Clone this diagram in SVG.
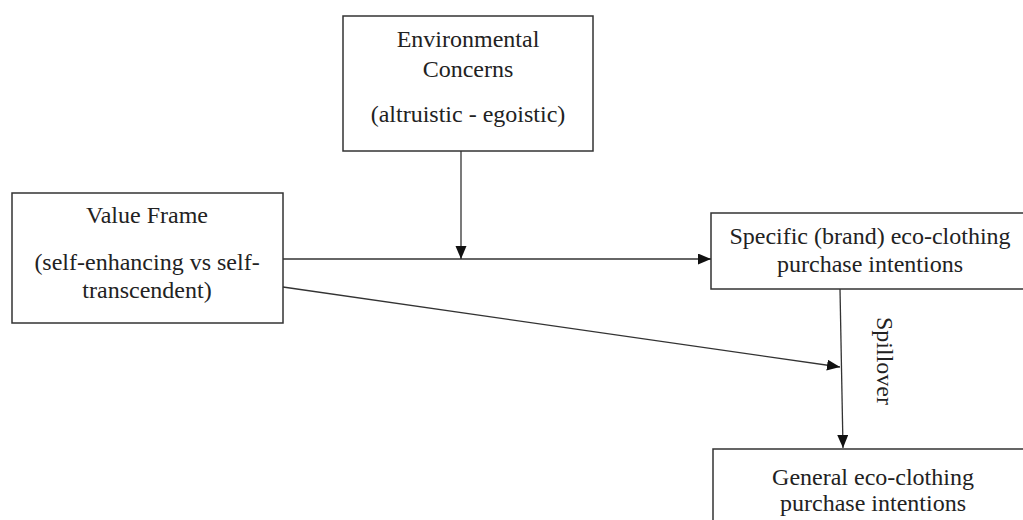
<svg xmlns="http://www.w3.org/2000/svg" width="1023" height="520" viewBox="0 0 1023 520">
<style>
.box{fill:#fff;stroke:#333;stroke-width:1.5}
.t{font-family:"Liberation Serif","Times New Roman",serif;font-size:24px;fill:#222;text-anchor:middle}
.c{fill:none;stroke:#333;stroke-width:1.3}
</style>
<defs>
<marker id="ah" markerUnits="userSpaceOnUse" markerWidth="14" markerHeight="12" refX="13" refY="5.5" orient="auto">
<path d="M0,0 L13,5.5 L0,11 z" fill="#111"/>
</marker>
</defs>
<rect width="1023" height="520" fill="#fff"/>
<g id="env">
<rect class="box" x="343" y="16" width="250" height="135"/>
<text class="t" x="468" y="47">Environmental</text>
<text class="t" x="468" y="77">Concerns</text>
<text class="t" x="468" y="122">(altruistic - egoistic)</text>
</g>
<g id="value">
<rect class="box" x="12" y="193" width="271" height="130"/>
<text class="t" x="147" y="223">Value Frame</text>
<text class="t" x="147" y="270">(self-enhancing vs self-</text>
<text class="t" x="147" y="298">transcendent)</text>
</g>
<g id="specific">
<rect class="box" x="711" y="213" width="330" height="76"/>
<text class="t" x="870" y="244">Specific (brand) eco-clothing</text>
<text class="t" x="870" y="272">purchase intentions</text>
</g>
<g id="general">
<rect class="box" x="713" y="449" width="330" height="90"/>
<text class="t" x="873" y="485">General eco-clothing</text>
<text class="t" x="873" y="511">purchase intentions</text>
</g>
<g id="connectors">
<line class="c" x1="283" y1="259" x2="711" y2="259" marker-end="url(#ah)"/>
<line class="c" x1="461" y1="151" x2="461" y2="259" marker-end="url(#ah)"/>
<line class="c" x1="283" y1="287" x2="840" y2="367" marker-end="url(#ah)"/>
<line class="c" x1="840" y1="289" x2="843" y2="448" marker-end="url(#ah)"/>
<text class="t" transform="translate(877,361) rotate(90)" x="0" y="0">Spillover</text>
</g>
</svg>
